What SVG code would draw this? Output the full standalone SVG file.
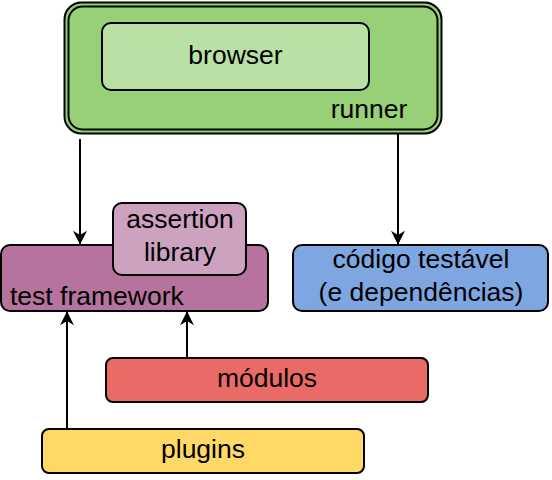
<svg xmlns="http://www.w3.org/2000/svg" width="552" height="480" viewBox="0 0 552 480">
<defs>
<style>
.box{stroke:#000;stroke-width:2}
.t{font-family:"Liberation Sans",Arial,sans-serif;font-size:26.5px;fill:#000}
.c{text-anchor:middle}
.ln{stroke:#000;stroke-width:2;fill:none}
</style>
<marker id="ah" viewBox="0 0 10 10" refX="9.5" refY="5" markerWidth="15" markerHeight="14" orient="auto" markerUnits="userSpaceOnUse">
<path d="M0,0 L10,5 L0,10 L3,5 Z" fill="#000"/>
</marker>
</defs>
<rect width="552" height="480" fill="#fff"/>
<g id="runner">
<rect class="box" x="64.5" y="2.5" width="377" height="131" rx="17" fill="#97d077"/>
<rect class="box" x="68.5" y="6.5" width="369" height="123" rx="14" fill="#97d077"/>
<text class="t c" x="369" y="118">runner</text>
</g>
<g id="browser">
<rect class="box" x="102" y="23" width="267" height="67" rx="9" fill="#b9e0a5"/>
<text class="t c" x="235.5" y="64">browser</text>
</g>
<g id="test-framework">
<rect class="box" x="1" y="245" width="267" height="66" rx="9" fill="#b5739d"/>
<text class="t" x="10" y="305">test framework</text>
</g>
<g id="assertion-library">
<rect class="box" x="113" y="203" width="133" height="72" rx="9" fill="#cda2be"/>
<text class="t c" x="180" y="228">assertion</text>
<text class="t c" x="180" y="261">library</text>
</g>
<g id="codigo">
<rect class="box" x="293" y="245" width="255" height="66" rx="9" fill="#7ea6e0"/>
<text class="t c" x="421" y="268">código testável</text>
<text class="t c" x="421" y="301">(e dependências)</text>
</g>
<g id="modulos">
<rect class="box" x="106" y="358" width="322" height="44" rx="7" fill="#ea6b66"/>
<text class="t c" x="267" y="387">módulos</text>
</g>
<g id="plugins">
<rect class="box" x="42" y="429" width="322" height="44" rx="7" fill="#ffd966"/>
<text class="t c" x="203" y="458">plugins</text>
</g>
<g id="connectors">
<path class="ln" d="M80,139 V244" marker-end="url(#ah)"/>
<path class="ln" d="M398,134 V244" marker-end="url(#ah)"/>
<path class="ln" d="M67,429 V312" marker-end="url(#ah)"/>
<path class="ln" d="M187,358 V312" marker-end="url(#ah)"/>
</g>
</svg>
